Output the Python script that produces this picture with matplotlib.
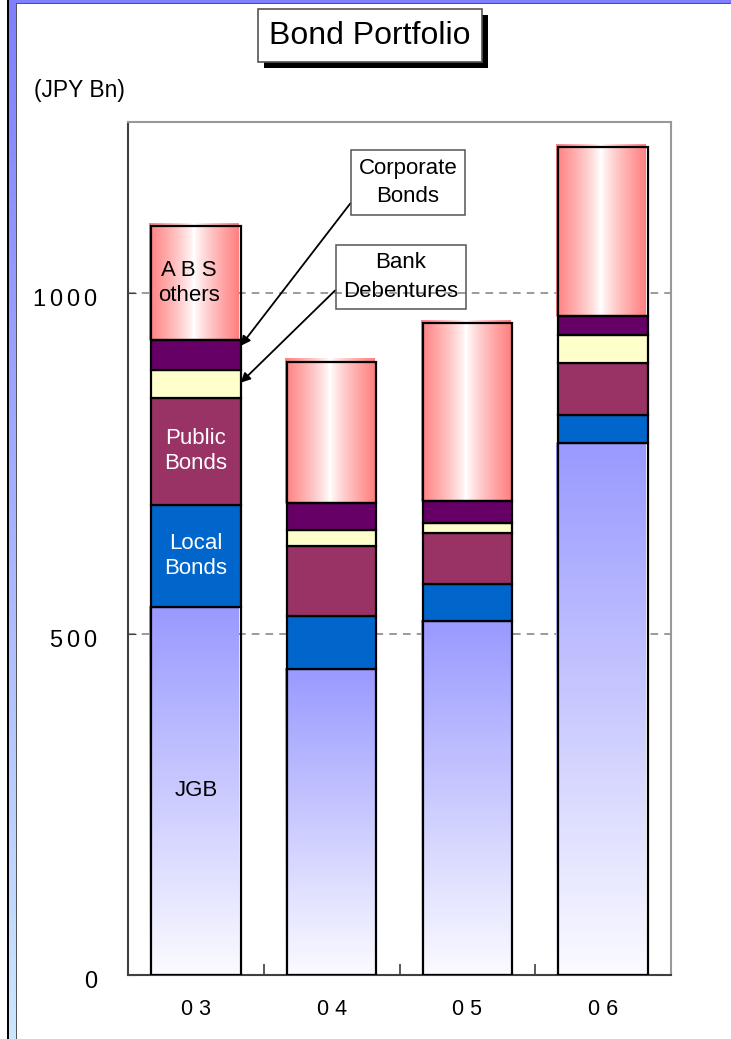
import numpy as np
import matplotlib
matplotlib.use("Agg")
import matplotlib.pyplot as plt
from matplotlib.colors import LinearSegmentedColormap
from matplotlib.patches import Rectangle
from matplotlib.transforms import ScaledTranslation

plt.rcParams['font.family'] = ['Liberation Sans', 'DejaVu Sans']

# bond holdings by fiscal year, JPY Bn
years = ['0 3', '0 4', '0 5', '0 6']
jgb = [540, 449, 519, 779]
local_bonds = [149, 77, 54, 41]
public_bonds = [157, 103, 74, 77]
bank_debentures = [40, 23, 16, 41]
corporate_bonds = [45, 39, 31, 27]
abs_others = [166, 208, 261, 248]
yticks = [0, 500, 1000]

segments = [jgb, local_bonds, public_bonds, bank_debentures, corporate_bonds, abs_others]
colors = ['none', '#0066CC', '#993366', '#FFFFCC', '#660066', 'none']

W, H = 731, 1039
fig = plt.figure(figsize=(W / 100, H / 100), dpi=100)

# frame decoration + title box, drawn in pixel space
deco = fig.add_axes([0, 0, 1, 1], zorder=0)
strip = LinearSegmentedColormap.from_list('strip', ['#7F7FFF', '#CCE6FF'])
deco.imshow(np.linspace(0, 1, 256).reshape(-1, 1), cmap=strip, aspect='auto',
            extent=[9, 16, H, 0], zorder=1, interpolation='bilinear')
deco.add_patch(Rectangle((6.5, 0), 2.5, H, color='black', lw=0, zorder=2))
deco.add_patch(Rectangle((16, 3), 1, H, color='#555555', lw=0, zorder=2))
deco.add_patch(Rectangle((9, 0), W, 3, color='#7F7FFF', lw=0, zorder=2))
deco.add_patch(Rectangle((16, 3), W, 1, color='#555555', lw=0, zorder=2))
deco.set_xlim(0, W)
deco.set_ylim(H, 0)
deco.axis('off')

deco.add_patch(Rectangle((264, 15), 224, 53, facecolor='black', lw=0, zorder=3))
deco.add_patch(Rectangle((258, 9), 224, 53, facecolor='white', edgecolor='#555555',
                         lw=1.2, zorder=4))
deco.text(370, 36, 'Bond Portfolio', ha='center', va='center', fontsize=23, zorder=5)
deco.text(79, 90, '(JPY Bn)', ha='center', va='center', fontsize=16.5)

ax = fig.add_axes([128 / W, 1 - 975 / H, 543 / W, 853 / H], zorder=1)
x = np.arange(len(years))
width = 0.66
bottom = np.zeros(len(years))
bar_sets = []
for vals, c in zip(segments, colors):
    bars = ax.bar(x, vals, width, bottom=bottom, color=c, edgecolor='black',
                  linewidth=1.6, zorder=3)
    bar_sets.append(bars)
    bottom += np.array(vals)

# gradient fills: JGB fades vertically, ABS has a horizontal cylinder look
jgb_cmap = LinearSegmentedColormap.from_list('jgb', ['#FBFBFF', '#9999FF'])
abs_cmap = LinearSegmentedColormap.from_list('abs', ['#FFFFFF', '#FF8080'])
t = np.linspace(0, 1, 256)
for b in bar_sets[0]:
    x0, y0, w, h = b.get_x(), b.get_y(), b.get_width(), b.get_height()
    ax.imshow(t.reshape(-1, 1), cmap=jgb_cmap, origin='lower', aspect='auto',
              extent=[x0 - 0.015, x0 + w - 0.015, y0, y0 + h], zorder=2.5)
for b in bar_sets[5]:
    x0, y0, w, h = b.get_x(), b.get_y(), b.get_width(), b.get_height()
    ax.imshow(np.abs(2 * t - 1).reshape(1, -1) ** 0.8, cmap=abs_cmap, aspect='auto',
              extent=[x0 - 0.015, x0 + w - 0.015, y0, y0 + h + 4], zorder=2.5)

ax.set_xlim(-0.5, len(years) - 0.5)
ax.set_ylim(0, 1250)

ax.set_yticks(yticks)
ax.set_yticklabels(['\u2006'.join(str(v)) for v in yticks])
ax.yaxis.grid(True, linestyle=(0, (5, 4)), color='#808080', linewidth=1.1)
ax.set_axisbelow(True)
ax.tick_params(axis='y', direction='in', length=6, color='#404040', labelsize=17, pad=22)
for lbl in ax.get_yticklabels():
    lbl.set_transform(lbl.get_transform() + ScaledTranslation(0, -0.05, fig.dpi_scale_trans))

ax.set_xticks(x)
ax.set_xticklabels(years)
ax.set_xticks(x[:-1] + 0.5, minor=True)
ax.tick_params(axis='x', which='major', length=0, labelsize=15.5, pad=17)
ax.tick_params(axis='x', which='minor', direction='in', length=8, color='#404040', width=1.2)

for side in ['left', 'bottom']:
    ax.spines[side].set_color('#404040')
    ax.spines[side].set_linewidth(1.5)
for side in ['top', 'right']:
    ax.spines[side].set_color('#999999')
    ax.spines[side].set_linewidth(1.5)

# segment labels on the first bar
first = 0
lab_font = dict(ha='center', va='center', fontsize=16, linespacing=1.25, zorder=5)
ax.text(first, jgb[0] / 2, 'JGB', color='black', **lab_font)
ax.text(first, jgb[0] + local_bonds[0] / 2, 'Local\nBonds', color='white', **lab_font)
ax.text(first, jgb[0] + local_bonds[0] + public_bonds[0] / 2, 'Public\nBonds',
        color='white', **lab_font)
abs_base = jgb[0] + local_bonds[0] + public_bonds[0] + bank_debentures[0] + corporate_bonds[0]
ax.text(first - 0.05, abs_base + abs_others[0] / 2, 'A B S\nothers', color='black', **lab_font)

corp_y = abs_base - corporate_bonds[0] * 0.2
bank_y = abs_base - corporate_bonds[0] - bank_debentures[0] * 0.45
box = dict(boxstyle='square,pad=0.35', facecolor='none', edgecolor='#555555', linewidth=1.1)
ax.annotate('Corporate\nBonds', xy=(first + width / 2, corp_y), xytext=(1.563, 1161),
            ha='center', va='center', fontsize=16, linespacing=1.45, bbox=box, zorder=6,
            arrowprops=dict(arrowstyle='-|>', color='black', lw=1.3, mutation_scale=14,
                            relpos=(0, 0.3), shrinkA=0, shrinkB=0))
ax.annotate('Bank\nDebentures', xy=(first + width / 2, bank_y), xytext=(1.511, 1023),
            ha='center', va='center', fontsize=16, linespacing=1.45, bbox=box, zorder=6,
            arrowprops=dict(arrowstyle='-|>', color='black', lw=1.3, mutation_scale=14,
                            relpos=(0, 0.39), shrinkA=0, shrinkB=0))

fig.savefig('out.png', dpi=100)
